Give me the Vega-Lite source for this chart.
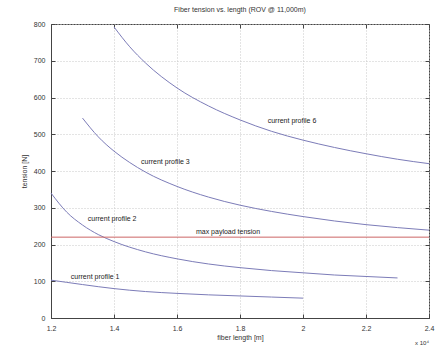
{
  "$schema": "https://vega.github.io/schema/vega-lite/v6.json",
  "autosize": "none",
  "width": 378,
  "height": 294,
  "padding": {"left": 51, "top": 24, "right": 13, "bottom": 27},
  "background": "white",
  "config": {
    "font": "Liberation Sans",
    "view": {"stroke": "#444", "strokeWidth": 1},
    "axis": {
      "labelFontSize": 7, "labelColor": "#333", "titleFontSize": 7, "titleFontWeight": "normal", "titleColor": "#333",
      "domainColor": "#444", "tickColor": "#444", "tickSize": -4, "labelPadding": 10, "labelFlush": false,
      "gridColor": "#c8c8c8", "gridDash": [1, 2], "gridWidth": 1
    }
  },
  "title": {"text": "Fiber tension vs. length (ROV @ 11,000m)", "fontSize": 7, "fontWeight": "normal", "color": "#333", "offset": 7},
  "resolve": {"axis": {"x": "independent", "y": "independent"}},
  "layer": [
    {
      "data": {"values": [
        {"length": 14000, "tension": 792, "profile": "6"},
        {"length": 14500, "tension": 738, "profile": "6"},
        {"length": 15000, "tension": 694, "profile": "6"},
        {"length": 16000, "tension": 626, "profile": "6"},
        {"length": 17000, "tension": 577, "profile": "6"},
        {"length": 18000, "tension": 539, "profile": "6"},
        {"length": 19000, "tension": 508, "profile": "6"},
        {"length": 20000, "tension": 484, "profile": "6"},
        {"length": 21000, "tension": 464, "profile": "6"},
        {"length": 22000, "tension": 447, "profile": "6"},
        {"length": 23000, "tension": 432, "profile": "6"},
        {"length": 24000, "tension": 420, "profile": "6"},
        {"length": 13000, "tension": 544, "profile": "3"},
        {"length": 13500, "tension": 493, "profile": "3"},
        {"length": 14000, "tension": 454, "profile": "3"},
        {"length": 14500, "tension": 423, "profile": "3"},
        {"length": 15000, "tension": 397, "profile": "3"},
        {"length": 16000, "tension": 358, "profile": "3"},
        {"length": 17000, "tension": 329, "profile": "3"},
        {"length": 18000, "tension": 307, "profile": "3"},
        {"length": 19000, "tension": 290, "profile": "3"},
        {"length": 20000, "tension": 276, "profile": "3"},
        {"length": 21000, "tension": 264, "profile": "3"},
        {"length": 22000, "tension": 254, "profile": "3"},
        {"length": 23000, "tension": 246, "profile": "3"},
        {"length": 24000, "tension": 239, "profile": "3"},
        {"length": 12000, "tension": 340, "profile": "2"},
        {"length": 12500, "tension": 288, "profile": "2"},
        {"length": 13000, "tension": 253, "profile": "2"},
        {"length": 13500, "tension": 227, "profile": "2"},
        {"length": 14000, "tension": 208, "profile": "2"},
        {"length": 15000, "tension": 180, "profile": "2"},
        {"length": 16000, "tension": 161, "profile": "2"},
        {"length": 17000, "tension": 147, "profile": "2"},
        {"length": 18000, "tension": 137, "profile": "2"},
        {"length": 19000, "tension": 129, "profile": "2"},
        {"length": 20000, "tension": 123, "profile": "2"},
        {"length": 21000, "tension": 117, "profile": "2"},
        {"length": 22000, "tension": 113, "profile": "2"},
        {"length": 23000, "tension": 109, "profile": "2"},
        {"length": 12000, "tension": 103, "profile": "1"},
        {"length": 12500, "tension": 97, "profile": "1"},
        {"length": 13000, "tension": 91, "profile": "1"},
        {"length": 14000, "tension": 80, "profile": "1"},
        {"length": 15000, "tension": 72, "profile": "1"},
        {"length": 16000, "tension": 67, "profile": "1"},
        {"length": 17000, "tension": 63, "profile": "1"},
        {"length": 18000, "tension": 60, "profile": "1"},
        {"length": 19000, "tension": 57, "profile": "1"},
        {"length": 20000, "tension": 54, "profile": "1"}
      ]},
      "mark": {"type": "line", "color": "#7c7cb8", "strokeWidth": 1, "interpolate": "monotone"},
      "encoding": {
        "x": {"field": "length", "type": "quantitative",
              "scale": {"domain": [12000, 24000], "nice": false},
              "axis": {"title": "fiber length [m]", "values": [12000, 14000, 16000, 18000, 20000, 22000, 24000],
                       "labelExpr": "format(datum.value/10000, '.1~f')", "titlePadding": 2}},
        "y": {"field": "tension", "type": "quantitative",
              "scale": {"domain": [0, 800], "nice": false},
              "axis": {"title": "tension [N]", "tickCount": 8, "titlePadding": 6}},
        "detail": {"field": "profile"}
      }
    },
    {
      "data": {"values": [{"limit": 220}]},
      "mark": {"type": "rule", "color": "#cc6666", "strokeWidth": 1},
      "encoding": {"y": {"field": "limit", "type": "quantitative", "axis": null}}
    },
    {
      "data": {"values": [
        {"length": 19650, "tension": 536, "label": "current profile 6"},
        {"length": 15630, "tension": 425, "label": "current profile 3"},
        {"length": 13940, "tension": 269, "label": "current profile 2"},
        {"length": 13400, "tension": 112, "label": "current profile 1"},
        {"length": 17620, "tension": 234, "label": "max payload tension"}
      ]},
      "mark": {"type": "text", "fontSize": 7, "color": "#222", "align": "center", "baseline": "middle"},
      "encoding": {
        "x": {"field": "length", "type": "quantitative", "axis": null},
        "y": {"field": "tension", "type": "quantitative", "axis": null},
        "text": {"field": "label"}
      }
    },
    {
      "data": {"values": [{"length": 24000, "tension": 0, "label": "x 10⁴"}]},
      "mark": {"type": "text", "fontSize": 6, "color": "#333", "align": "right", "baseline": "top", "dy": 22},
      "encoding": {
        "x": {"field": "length", "type": "quantitative",
              "axis": {"orient": "top", "labels": false, "title": null, "grid": false, "domain": false,
                       "values": [12000, 14000, 16000, 18000, 20000, 22000, 24000]}},
        "y": {"field": "tension", "type": "quantitative",
              "axis": {"orient": "right", "labels": false, "title": null, "grid": false, "domain": false, "tickCount": 8}},
        "text": {"field": "label"}
      }
    }
  ]
}
